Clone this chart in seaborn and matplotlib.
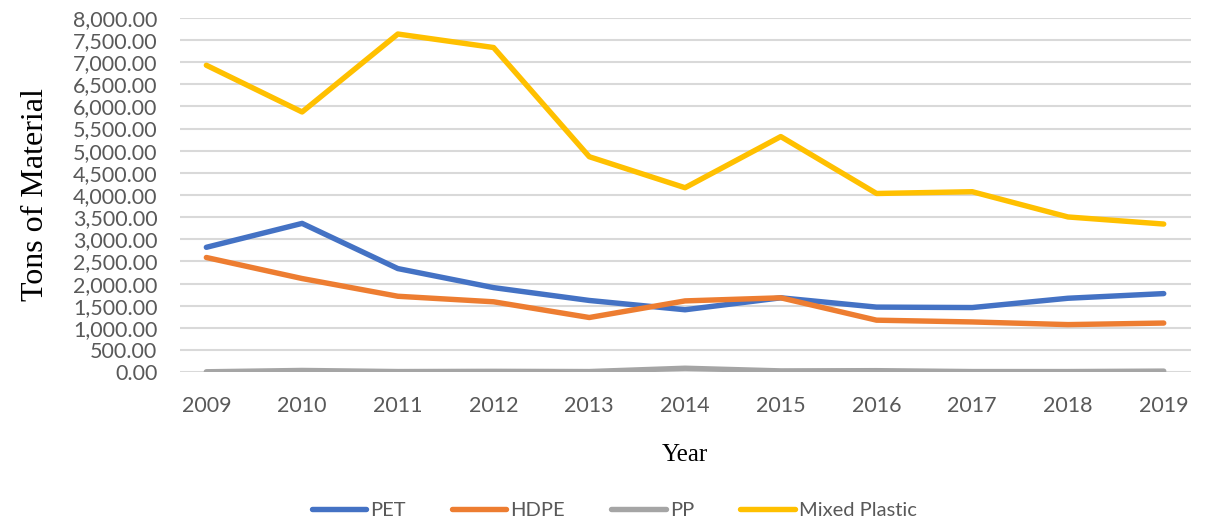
import matplotlib
matplotlib.use('Agg')
import matplotlib.pyplot as plt
import seaborn as sns
import pandas as pd
from matplotlib.ticker import FuncFormatter, MultipleLocator

sns.set_style("white")

# data
years = ['2009', '2010', '2011', '2012', '2013', '2014', '2015', '2016', '2017', '2018', '2019']
pet = [2820, 3360, 2340, 1910, 1620, 1410, 1680, 1470, 1460, 1670, 1775]
hdpe = [2590, 2115, 1715, 1590, 1235, 1610, 1680, 1175, 1135, 1075, 1110]
pp = [10, 40, 15, 20, 15, 90, 30, 35, 15, 15, 25]
mixed = [6930, 5875, 7635, 7330, 4865, 4165, 5320, 4035, 4075, 3505, 3345]
series_names = ['PET', 'HDPE', 'PP', 'Mixed Plastic']
colors = ['#4472C4', '#ED7D31', '#A5A5A5', '#FFC000']

frames = []
for name, vals in zip(series_names, [pet, hdpe, pp, mixed]):
    frames.append(pd.DataFrame({'Year': years, 'Tons': vals, 'Material': name}))
df = pd.concat(frames, ignore_index=True)

fig = plt.figure(figsize=(12.05, 5.25), dpi=100)
ax = fig.add_axes([0.149, 0.291, 0.839, 0.675])

sns.lineplot(data=df, x='Year', y='Tons', hue='Material', palette=colors,
             hue_order=series_names, linewidth=3.9, ax=ax, sort=False)

ax.set_ylim(0, 8000)
ax.set_xlim(-0.28, 10.28)
ax.yaxis.set_major_locator(MultipleLocator(500))
ax.yaxis.set_major_formatter(FuncFormatter(lambda v, p: f'{v:,.2f}'))
ax.grid(axis='y', color='#d9d9d9', linewidth=1.5)
ax.set_axisbelow(True)
for s in ax.spines.values():
    s.set_visible(False)
ax.tick_params(axis='both', length=0, labelsize=15.5, labelcolor='#595959')
ax.tick_params(axis='y', pad=16)
ax.tick_params(axis='x', pad=17)
for lbl in ax.get_xticklabels() + ax.get_yticklabels():
    lbl.set_family('Lato')

ax.set_ylabel('Tons of Material', family='Liberation Serif', fontsize=23, color='black', labelpad=16)
ax.set_xlabel('Year', family='Liberation Serif', fontsize=18, color='black', labelpad=20)

leg = ax.legend(loc='center', bbox_to_anchor=(0.43, -0.39), ncol=4, frameon=False,
                handlelength=2.7, columnspacing=2.3, handletextpad=0.2,
                prop={'family': 'Lato', 'size': 14.5})
for t in leg.get_texts():
    t.set_color('#595959')
for h in leg.get_lines():
    h.set_linewidth(3.9)
    h.set_solid_capstyle('round')

fig.savefig('out.png', dpi=100)
